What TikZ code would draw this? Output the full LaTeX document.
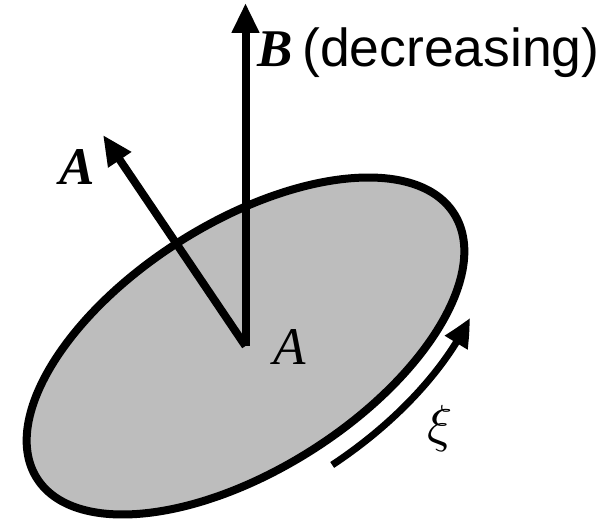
\documentclass[tikz,border=0pt]{standalone}
\usepackage{graphicx}
\usepackage{fontspec}
\setmainfont{Liberation Serif}
\newfontfamily\labelsans{Liberation Sans}
\usetikzlibrary{arrows.meta,positioning,bending}
\definecolor{discgray}{RGB}{189,189,189}
\tikzset{
  disc/.style={draw=black, line width=8pt, fill=discgray},
  vecarrow/.style={-{Triangle[length=30pt,width=26pt]}, line width=8pt},
  flowarrow/.style={-{Triangle[length=28pt,width=25pt,bend]}, line width=7pt},
  symb/.style={inner sep=0pt, font=\fontsize{53}{60}\selectfont},
  word/.style={inner sep=0pt, font=\labelsans\fontsize{53.5}{60}\selectfont}
}
\begin{document}
\begin{tikzpicture}[x=1pt,y=1pt]
  \useasboundingbox (0,0) rectangle (613,522);
  \coordinate (O) at (245.5,176);
  \coordinate (Btip) at (245.5,519);
  \coordinate (Atip) at (103,387);

  % the loop
  \draw[disc, rotate around={32.4:(O)}] (O) ellipse [x radius=247pt, y radius=123.5pt];

  % vectors from the centre
  \draw[vecarrow] (O) -- (Btip);
  \draw[vecarrow] (O) -- (Atip);

  % circulation along the rim
  \draw[flowarrow, shift={(O)}, rotate=32.4]
    (-88:271pt and 147pt) coordinate (xitail)
    arc[start angle=-88, end angle=-41, x radius=271pt, y radius=147pt] coordinate (xitip);

  \node[symb, anchor=base west] (Bname) at (257,455) {\bfseries\itshape B};
  \node[word, anchor=base west] (Bnote) at (302,455) {(decreasing)};
  \node[symb] (Avec) at (77,354.5) {\bfseries\itshape A};
  \node[symb] (Aarea) at (290,174.5) {\itshape A};
  \node[inner sep=0pt] (xi) at (440.5,93.5) {\scalebox{5.2}{$\xi$}};
\end{tikzpicture}
\end{document}
